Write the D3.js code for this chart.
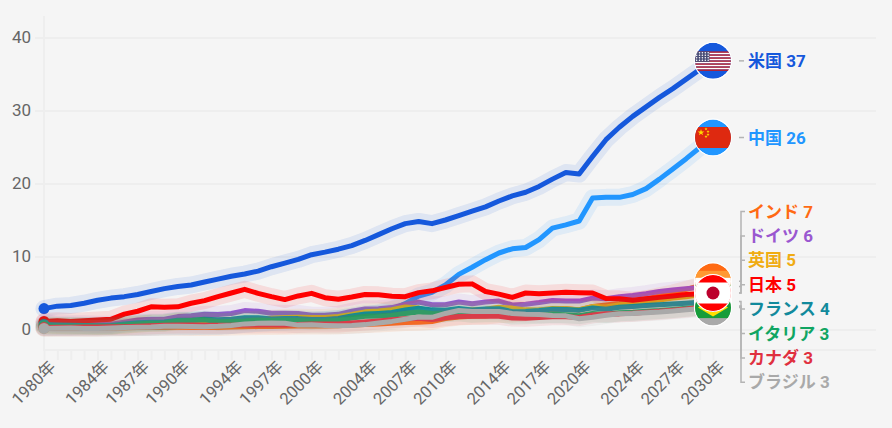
<!DOCTYPE html>
<html lang="ja">
<head>
<meta charset="utf-8">
<script src="https://cdn.jsdelivr.net/npm/d3@7"></script>
<style>
html, body { margin:0; padding:0; background:#f5f5f5; }
svg { display:block; }
text { font-family:Roboto, "Noto Sans CJK JP", sans-serif; }
</style>
</head>
<body>
<div id="chart"></div>
<script>
var years = d3.range(1980, 2031);
var labelYears = [1980,1984,1987,1990,1994,1997,2000,2004,2007,2010,2014,2017,2020,2024,2027,2030];
var yTicks = [0,10,20,30,40];

var us = [2.86,3.2,3.3,3.6,4.0,4.3,4.5,4.8,5.2,5.6,5.9,6.1,6.5,6.9,7.3,7.6,8.0,8.6,9.1,9.6,10.25,10.6,11.0,11.5,12.2,13.0,13.8,14.5,14.8,14.5,15.0,15.6,16.2,16.8,17.6,18.3,18.8,19.6,20.6,21.5,21.3,23.7,26.0,27.7,29.2,30.5,31.8,33.0,34.3,35.6,36.8];
var china = [0.3,0.29,0.28,0.3,0.31,0.31,0.3,0.27,0.31,0.35,0.36,0.38,0.43,0.44,0.56,0.73,0.86,0.96,1.03,1.09,1.21,1.34,1.47,1.66,1.96,2.29,2.75,3.55,4.59,5.1,6.09,7.55,8.53,9.57,10.48,11.06,11.23,12.31,13.89,14.34,14.86,18.0,18.1,18.1,18.5,19.3,20.6,22.0,23.4,24.9,26.3];
var india = [0.19,0.2,0.21,0.22,0.21,0.23,0.25,0.28,0.3,0.3,0.32,0.27,0.29,0.28,0.33,0.37,0.4,0.42,0.43,0.47,0.47,0.49,0.51,0.6,0.68,0.75,0.85,0.95,1.0,1.1,1.5,1.7,1.8,1.86,2.04,2.1,2.29,2.65,2.7,2.84,2.67,3.15,3.35,3.57,3.9,4.2,4.6,5.0,5.5,6.0,6.6];
var germany = [0.95,0.8,0.78,0.78,0.73,0.73,1.0,1.3,1.4,1.4,1.77,1.87,2.1,2.07,2.2,2.59,2.5,2.22,2.24,2.2,1.95,1.95,2.08,2.5,2.82,2.85,3.0,3.44,3.75,3.4,3.4,3.76,3.54,3.76,3.9,3.36,3.47,3.69,3.98,3.89,3.89,4.3,4.2,4.5,4.66,4.9,5.2,5.4,5.6,5.75,5.9];
var uk = [0.6,0.55,0.5,0.47,0.44,0.47,0.57,0.7,0.85,0.85,1.07,1.1,1.15,1.05,1.14,1.34,1.42,1.55,1.65,1.68,1.66,1.64,1.78,2.05,2.42,2.54,2.71,3.09,2.93,2.41,2.49,2.66,2.7,2.78,3.06,2.93,2.69,2.68,2.87,2.85,2.7,3.14,3.09,3.38,3.6,3.8,4.05,4.3,4.5,4.75,5.0];
var japan = [1.1,1.2,1.1,1.2,1.3,1.4,2.1,2.5,3.1,3.05,3.1,3.6,3.95,4.5,5.0,5.5,4.95,4.5,4.1,4.6,4.95,4.35,4.15,4.45,4.8,4.75,4.55,4.5,5.05,5.3,5.75,6.2,6.25,5.2,4.85,4.4,5.0,4.9,5.0,5.1,5.05,5.0,4.25,4.2,4.0,4.2,4.4,4.6,4.8,4.9,5.0];
var france = [0.7,0.62,0.58,0.55,0.52,0.55,0.77,0.92,1.0,1.03,1.27,1.27,1.4,1.32,1.39,1.6,1.6,1.45,1.5,1.49,1.36,1.38,1.5,1.84,2.12,2.2,2.32,2.66,2.92,2.69,2.65,2.87,2.68,2.81,2.85,2.44,2.47,2.59,2.79,2.73,2.65,2.96,2.78,3.05,3.16,3.3,3.4,3.5,3.6,3.72,3.85];
var italy = [0.48,0.43,0.43,0.44,0.43,0.44,0.63,0.77,0.86,0.9,1.18,1.25,1.32,1.06,1.1,1.17,1.31,1.24,1.27,1.25,1.14,1.17,1.27,1.57,1.8,1.86,1.95,2.2,2.4,2.19,2.14,2.29,2.09,2.14,2.16,1.84,1.88,1.96,2.09,2.01,1.9,2.18,2.05,2.3,2.37,2.5,2.6,2.75,2.9,3.05,3.2];
var canada = [0.27,0.3,0.31,0.34,0.35,0.36,0.37,0.43,0.51,0.57,0.6,0.61,0.59,0.58,0.58,0.6,0.63,0.65,0.63,0.68,0.74,0.74,0.76,0.89,1.02,1.17,1.32,1.47,1.55,1.37,1.62,1.79,1.83,1.85,1.81,1.56,1.53,1.65,1.73,1.74,1.66,2.0,2.16,2.14,2.24,2.35,2.5,2.65,2.8,3.0,3.2];
var brazil = [0.15,0.18,0.19,0.15,0.15,0.22,0.27,0.3,0.33,0.45,0.46,0.41,0.39,0.44,0.56,0.77,0.85,0.88,0.86,0.6,0.65,0.56,0.51,0.56,0.67,0.89,1.11,1.4,1.7,1.67,2.2,2.6,2.47,2.47,2.46,2.2,2.1,2.06,1.92,1.87,1.48,1.67,1.95,2.17,2.18,2.3,2.4,2.55,2.7,2.85,3.0];

var names = ["米国","中国","インド","ドイツ","英国","日本","フランス","イタリア","カナダ","ブラジル"];
var keys = ["us","china","india","germany","uk","japan","france","italy","canada","brazil"];
var values = [us,china,india,germany,uk,japan,france,italy,canada,brazil];
var endLabels = ["37","26","7","6","5","5","4","3","3","3"];
var colors = ["#1558dc","#2196ff","#ff6a13","#9a57d0","#f0ac12","#ff0000","#128a9c","#10a562","#e0303f","#a9a9a9"];
var flagOrder = ["us","china","germany","uk","france","italy","canada","india","brazil","japan"];

var width = 892, height = 428, gridRight = 876, axisY = 350, flagR = 18;
var labelX = 748, labelTop = 211.5, labelStep = 24.4;

var x = d3.scaleLinear().domain([1980,2030]).range([44,713]);
var y = d3.scaleLinear().domain([0,40]).range([329.5,37.5]);

var svg = d3.select('#chart').append('svg').attr('width', width).attr('height', height);

// grid
var grid = svg.append('g').attr('transform', 'translate(44,0)')
    .call(d3.axisLeft(y).tickValues(yTicks).tickSize(10).tickFormat(function(d){return d;}));
grid.select('.domain').remove();
grid.selectAll('.tick line').attr('x1', gridRight - 44).attr('x2', -9).attr('stroke', '#eeeeee').attr('stroke-width', 2);
grid.selectAll('.tick text').attr('x', -13).attr('font-size', 17).attr('fill', '#666666').style('font-family', 'Roboto, sans-serif');

svg.append('line').attr('x1', x(1980)).attr('x2', x(1980)).attr('y1', 16).attr('y2', axisY)
    .attr('stroke', '#eeeeee').attr('stroke-width', 2);

// bottom axis
var bottom = svg.append('g').attr('transform', 'translate(0,' + axisY + ')')
    .call(d3.axisBottom(x).tickValues(years).tickSize(10).tickFormat(function(d){
        return labelYears.indexOf(d) >= 0 ? d + '年' : '';
    }));
bottom.select('.domain').remove();
bottom.append('line').attr('x1', x(1980) - 1).attr('x2', gridRight).attr('stroke', '#eeeeee').attr('stroke-width', 2);
bottom.selectAll('.tick line').attr('stroke', '#eeeeee').attr('stroke-width', 2);
bottom.selectAll('.tick text')
    .attr('font-size', 16.5)
    .attr('fill', '#666666')
    .attr('text-anchor', 'end')
    .attr('x', -4).attr('y', 16).attr('dy', '0.32em')
    .attr('transform', 'rotate(-45)');

// lines
var line = d3.line()
    .x(function(d,i){return x(years[i]);})
    .y(function(d){return y(d);});

var series = svg.append('g').selectAll('g').data(values).enter().append('g');
series.append('path').attr('d', line).attr('fill', 'none')
    .attr('stroke', function(d,i){return colors[i];})
    .attr('stroke-width', 17).attr('stroke-opacity', 0.1)
    .attr('stroke-linejoin', 'round').attr('stroke-linecap', 'round');
series.append('path').attr('d', line).attr('fill', 'none')
    .attr('stroke', function(d,i){return colors[i];})
    .attr('stroke-width', 5)
    .attr('stroke-linejoin', 'round');
series.append('circle')
    .attr('cx', x(1980)).attr('cy', function(d){return y(d[0]);})
    .attr('r', 5.5)
    .attr('fill', function(d,i){return colors[i];});

// leader lines from flags to labels
function labelY(i){
    return i < 2 ? y(values[i][values[i].length - 1]) : labelTop + (i - 2) * labelStep;
}
svg.append('g').selectAll('path').data(names).enter().append('path')
    .attr('d', function(d,i){
        var fy = y(values[i][values[i].length - 1]);
        if (i < 2) return 'M739,' + fy + 'H744';
        return 'M739,' + fy + 'H741V' + labelY(i) + 'H745';
    })
    .attr('fill', 'none').attr('stroke', '#b4b4b4').attr('stroke-width', 1.5);

// flags
function rect(g, fx, fy, w, h, fill){
    g.append('rect').attr('x', fx).attr('y', fy).attr('width', w).attr('height', h).attr('fill', fill);
}
function bands(g, list){
    var h = 21 / list.length;
    list.forEach(function(c,i){ rect(g, -18, -10.5 + i * h, 36, h + 0.2, c); });
}
function vbands(g, list){
    var w = 36 / list.length;
    list.forEach(function(c,i){ rect(g, -18 + i * w, -10.5, w + 0.2, 21, c); });
}
var flagDraw = {
    us: function(g){
        d3.range(13).forEach(function(i){ rect(g, -18, -9.5 + i * 1.5, 36, 1.6, i % 2 ? '#ffffff' : '#b22234'); });
        rect(g, -18, -9.5, 14.5, 10.5, '#4a4f78');
        d3.range(4).forEach(function(r){ d3.range(5).forEach(function(c){
            g.append('circle').attr('cx', -16.4 + c * 2.9).attr('cy', -8 + r * 2.5).attr('r', 0.75).attr('fill', '#ffffff');
        }); });
    },
    china: function(g){
        rect(g, -18, -10.5, 36, 21, '#de2910');
        var star = d3.symbol().type(d3.symbolStar);
        g.append('path').attr('d', star.size(14)()).attr('transform', 'translate(-12,-5)').attr('fill', '#ffde00');
        [[-7,-8.5],[-5,-6],[-5,-3],[-7,-1]].forEach(function(p){
            g.append('path').attr('d', star.size(3)()).attr('transform', 'translate(' + p[0] + ',' + p[1] + ')').attr('fill', '#ffde00');
        });
    },
    india: function(g){
        bands(g, ['#ff9933','#ffffff','#138808']);
        g.append('circle').attr('r', 3).attr('fill', 'none').attr('stroke', '#000080');
    },
    germany: function(g){ bands(g, ['#000000','#dd0000','#ffce00']); },
    uk: function(g){
        rect(g, -18, -10.5, 36, 21, '#012169');
        rect(g, -18, -3.5, 36, 7, '#ffffff');
        rect(g, -3.5, -10.5, 7, 21, '#ffffff');
        rect(g, -18, -2, 36, 4, '#c8102e');
        rect(g, -2, -10.5, 4, 21, '#c8102e');
    },
    japan: function(g){
        rect(g, -18, -10.5, 36, 21, '#ffffff');
        g.append('circle').attr('r', 6.5).attr('fill', '#bc002d');
    },
    france: function(g){ vbands(g, ['#0055a4','#ffffff','#ef4135']); },
    italy: function(g){ vbands(g, ['#009246','#ffffff','#ce2b37']); },
    canada: function(g){
        vbands(g, ['#d80621','#ffffff','#ffffff','#d80621']);
        g.append('circle').attr('r', 3.5).attr('fill', '#d80621');
    },
    brazil: function(g){
        rect(g, -18, -10.5, 36, 21, '#169c39');
        g.append('polygon').attr('points', '-15,0 0,-9 15,0 0,9').attr('fill', '#ffdf00');
        g.append('circle').attr('r', 4.5).attr('fill', '#002776');
    }
};
var defs = svg.append('defs');
defs.append('clipPath').attr('id', 'flag-clip').append('circle').attr('r', flagR);

flagOrder.forEach(function(k){
    var i = keys.indexOf(k);
    var g = svg.append('g').attr('transform', 'translate(' + x(2030) + ',' + y(values[i][values[i].length - 1]) + ')');
    g.append('circle').attr('r', flagR + 1).attr('fill', '#ffffff');
    var inner = g.append('g').attr('clip-path', 'url(#flag-clip)');
    inner.append('circle').attr('r', flagR).attr('fill', colors[i]);
    flagDraw[k](inner);
});

// end labels
svg.append('g').selectAll('text').data(names).enter().append('text')
    .attr('x', labelX)
    .attr('y', function(d,i){return labelY(i);})
    .attr('dy', '0.36em')
    .attr('font-size', 17).attr('font-weight', 700)
    .attr('fill', function(d,i){return colors[i];})
    .text(function(d,i){return d + ' ' + endLabels[i];});
</script>
</body>
</html>
